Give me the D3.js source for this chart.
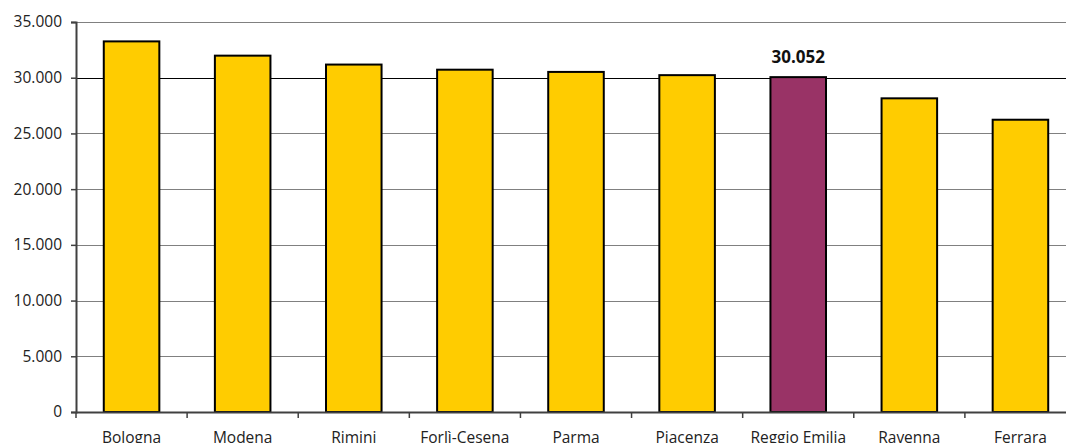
<!DOCTYPE html>
<html><head><meta charset="utf-8">
<script src="https://cdn.jsdelivr.net/npm/d3@7"></script>
<style>body{margin:0;background:#fff;}svg{display:block;font-family:"Open Sans",sans-serif;}</style>
</head><body><svg id="c" width="1066" height="443"></svg>
<script>
const categories = ["Bologna","Modena","Rimini","Forlì-Cesena","Parma","Piacenza","Reggio Emilia","Ravenna","Ferrara"];
const values = [33260, 31980, 31180, 30720, 30520, 30230, 30052, 28150, 26230];
const highlight = "Reggio Emilia";
const yTicks = [0,5000,10000,15000,20000,25000,30000,35000];
const yTickLabels = ["0","5.000","10.000","15.000","20.000","25.000","30.000","35.000"];

(function(){
const svg = d3.select("#c");
const pLeft = 76, pRight = 1076, pTop = 22, pBottom = 412;
const x = d3.scaleBand().domain(categories).range([pLeft, pRight]).paddingInner(0.5).paddingOuter(0.25);
const y = d3.scaleLinear().domain([0, 35000]).range([pBottom, pTop]);

// gridlines
svg.append("g").selectAll("line").data(yTicks.filter(d=>d>0)).join("line")
  .attr("x1", pLeft).attr("x2", pRight)
  .attr("y1", d=>Math.round(y(d))+0.5).attr("y2", d=>Math.round(y(d))+0.5)
  .attr("stroke", d=> d===30000 ? "#000" : "#808080").attr("stroke-width", 1.2);

// bars
svg.append("g").selectAll("rect").data(categories).join("rect")
  .attr("x", d=>x(d)).attr("width", x.bandwidth())
  .attr("y", (d,i)=>y(values[i])).attr("height", (d,i)=>pBottom - y(values[i]))
  .attr("fill", d=> d===highlight ? "#993366" : "#FFCC00")
  .attr("stroke", "#000").attr("stroke-width", 2);

// y axis
const yAxis = d3.axisLeft(y).tickValues(yTicks).tickFormat((d,i)=>yTickLabels[i]).tickSize(5).tickPadding(9);
const ga = svg.append("g").attr("transform", `translate(${pLeft},0)`).call(yAxis);
ga.select(".domain").attr("stroke", "#404040").attr("stroke-width", 2);
ga.selectAll(".tick line").attr("stroke", "#404040").attr("stroke-width", 1.5);
ga.selectAll("text").attr("font-size", 15.5).attr("fill", "#222").attr("font-family", "'Open Sans',sans-serif");

// x axis
const xPos = d3.scaleLinear().domain([0, categories.length]).range([pLeft, pRight]);
const gx = svg.append("g");
gx.append("line").attr("x1", pLeft).attr("x2", pRight).attr("y1", pBottom+0.5).attr("y2", pBottom+0.5).attr("stroke", "#404040").attr("stroke-width", 2);
gx.selectAll("line.t").data(d3.range(categories.length+1)).join("line").attr("class","t")
  .attr("x1", d=>xPos(d)).attr("x2", d=>xPos(d)).attr("y1", pBottom).attr("y2", pBottom+6)
  .attr("stroke", "#404040").attr("stroke-width", 1.5);
gx.selectAll("text").data(categories).join("text")
  .attr("x", d=>x(d)+x.bandwidth()/2).attr("y", 443)
  .attr("text-anchor", "middle").attr("font-size", 15.5).attr("fill", "#222").text(d=>d);

// value label
const hi = categories.indexOf(highlight);
svg.append("text").attr("x", x(highlight)+x.bandwidth()/2).attr("y", 63)
  .attr("text-anchor", "middle").attr("font-size", 17).attr("font-weight", "bold").attr("fill", "#111")
  .text(d3.format(",")(values[hi]).replace(/,/g, "."));
})();
</script></body></html>
